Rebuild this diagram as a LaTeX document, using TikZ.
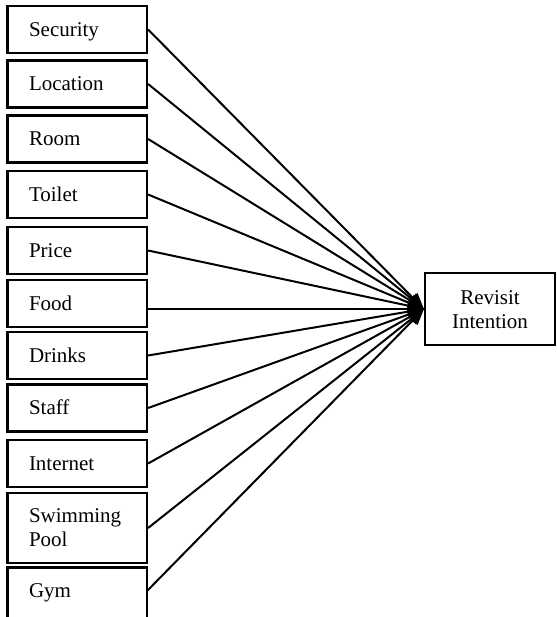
\documentclass[tikz,border=0pt]{standalone}
\usepackage{fontspec}
\setmainfont{Liberation Serif}
\usetikzlibrary{arrows.meta}
\begin{document}
\begin{tikzpicture}[x=1pt,y=-1pt,
  lbl/.style={font=\fontsize{21}{24.5}\selectfont},
  box/.style={lbl, draw, line width=2.2pt, minimum width=139.5pt, minimum height=47pt,
    text width=96.5pt, inner xsep=21.5pt, inner ysep=0pt, align=left,
    text height=17.6pt, text depth=4pt},
  tallbox/.style={box, minimum height=70pt, text height=17.6pt, text depth=29.6pt},
  target/.style={lbl, draw, line width=2.2pt, minimum width=130pt, minimum height=72pt,
    text width=110pt, inner xsep=10pt, inner ysep=0pt, align=center,
    text height=17.6pt, text depth=27.6pt},
  conn/.style={line width=2pt, -{Triangle[length=16pt,width=13pt]}}
]
\useasboundingbox (0,0) rectangle (556,617);
\node[box] (security) at (77.25,29.5) {Security};
\node[box] (location) at (77.25,84) {Location};
\node[box] (room) at (77.25,139) {Room};
\node[box] (toilet) at (77.25,194.5) {Toilet};
\node[box] (price) at (77.25,250.5) {Price};
\node[box] (food) at (77.25,303.5) {Food};
\node[box] (drinks) at (77.25,355.5) {Drinks};
\node[box] (staff) at (77.25,408) {Staff};
\node[box] (internet) at (77.25,463.5) {Internet};
\node[tallbox] (swimming) at (77.25,528) {Swimming\\Pool};
\node[box, draw=none, outer sep=0pt] (gym) at (77.25,591) {Gym};
\draw[line width=2.2pt] (gym.south west |- 0,640) -- (gym.north west) -- (gym.north east) -- (gym.south east |- 0,640);
\node[target] (revisit) at (490,309) {Revisit\\Intention};
\draw[conn] (security.east) -- (revisit.west);
\draw[conn] (location.east) -- (revisit.west);
\draw[conn] (room.east) -- (revisit.west);
\draw[conn] (toilet.east) -- (revisit.west);
\draw[conn] (price.east) -- (revisit.west);
\draw[conn] (food.east |- revisit.west) -- (revisit.west);
\draw[conn] (drinks.east) -- (revisit.west);
\draw[conn] (staff.east) -- (revisit.west);
\draw[conn] (internet.east) -- (revisit.west);
\draw[conn] (swimming.east) -- (revisit.west);
\draw[conn] (gym.east) -- (revisit.west);
\end{tikzpicture}
\end{document}
